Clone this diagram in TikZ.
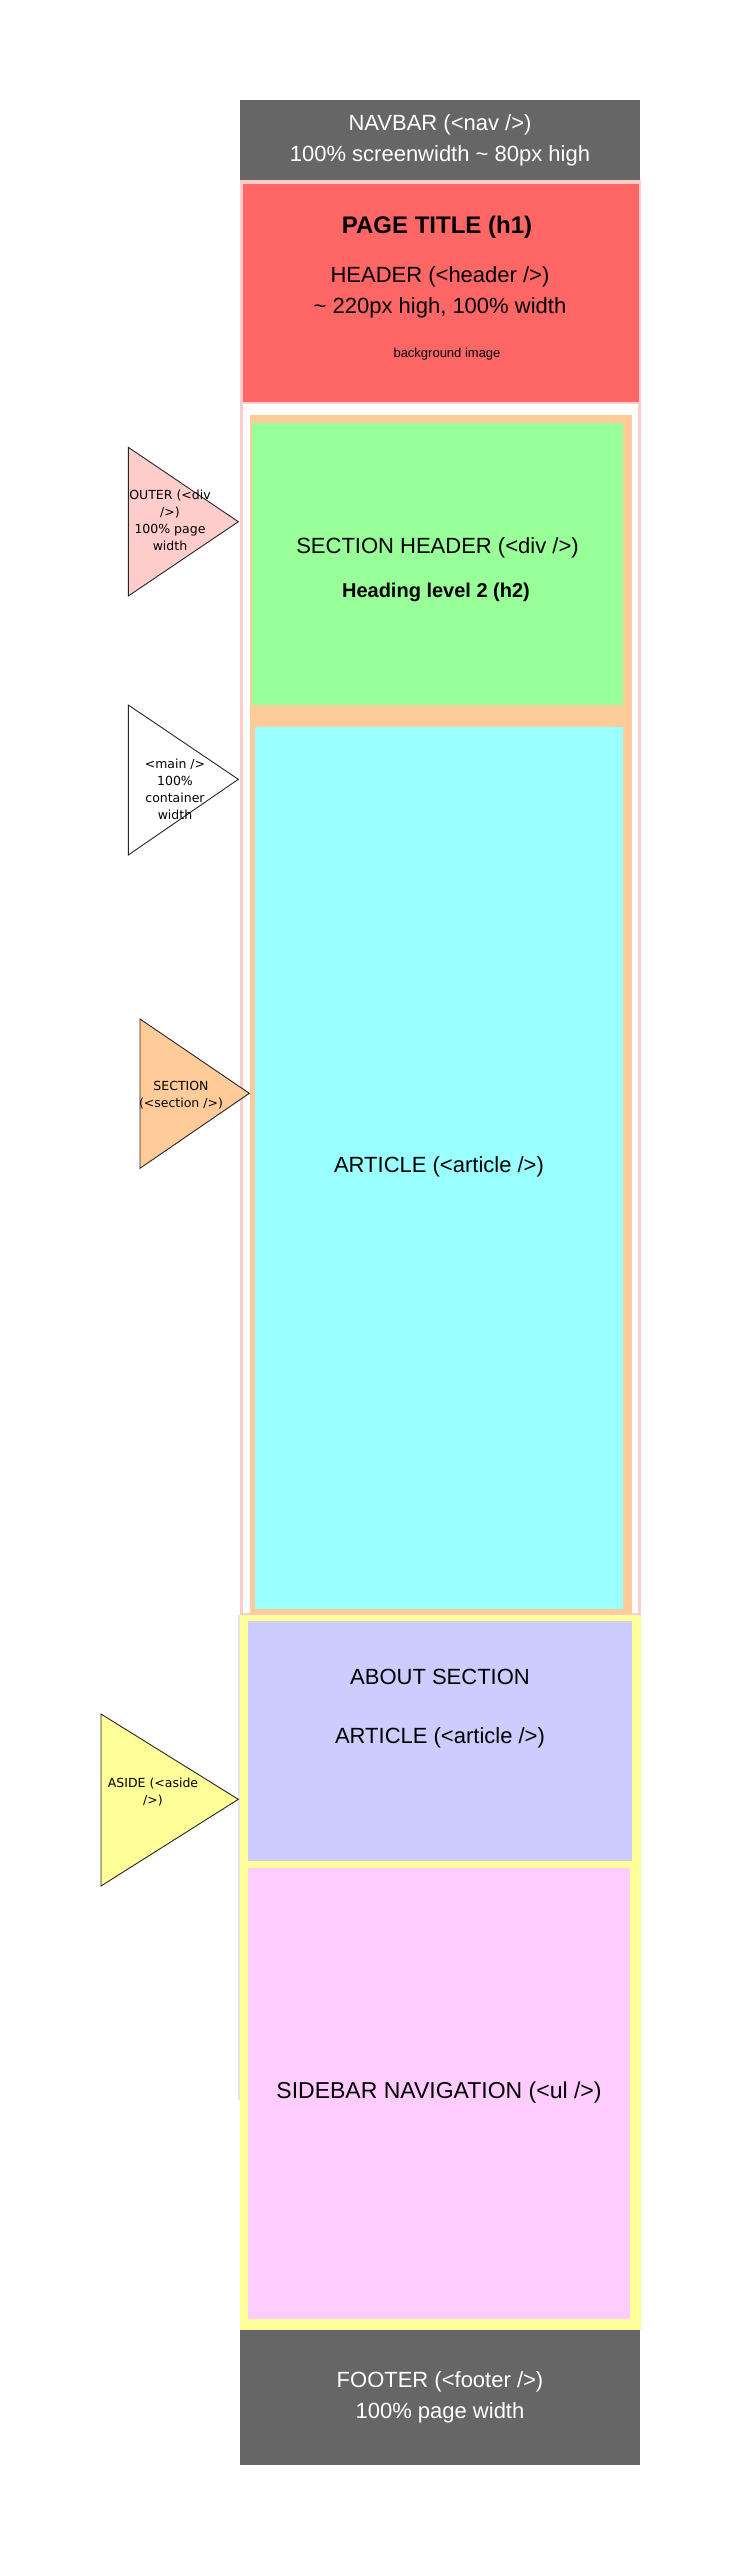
\documentclass[tikz,border=0pt]{standalone}
\usepackage{fontspec}
\setmainfont{Liberation Sans}
\newfontfamily\sketchfont{DejaVu Sans}
\usepackage{tikz}

\definecolor{navgrey}{HTML}{666666}
\definecolor{outerpink}{HTML}{FFCCCC}
\definecolor{headerred}{HTML}{FF6666}
\definecolor{sectionorange}{HTML}{FFCC99}
\definecolor{headgreen}{HTML}{99FF99}
\definecolor{articlecyan}{HTML}{99FFFF}
\definecolor{asideyellow}{HTML}{FFFF99}
\definecolor{aboutpurple}{HTML}{CCCCFF}
\definecolor{sidepink}{HTML}{FFCCFF}

\begin{document}
\begin{tikzpicture}[x=1pt,y=-1pt]
        \tikzstyle{every node}+=[inner sep=0pt]
        \tikzstyle{boxtext}=[font=\fontsize{22}{26}\selectfont]
        \tikzstyle{callout}=[draw=black!85, line width=0.9pt, line join=miter]
        \tikzstyle{callouttext}=[align=center, font=\sketchfont\fontsize{12.5}{17}\selectfont]
        \useasboundingbox (0,0) rectangle (741,2565);
        % navbar
        \fill [navgrey] (240,100) rectangle (640,180);
        \node [boxtext, white] (navtitle) at (440,124.5) {NAVBAR (<nav />)};
        \node [boxtext, white] (navsize) at (440,156) {100\% screenwidth \textasciitilde{} 80px high};
        % outer div
        \draw [outerpink, line width=3pt, fill=white] (241.5,181.5) rectangle (639.5,1614);
        \draw [outerpink, line width=2pt, fill=headerred] (241.5,183) rectangle (639.5,403);
        \node [font=\bfseries\fontsize{24}{28}\selectfont] (pagetitle) at (437,227) {PAGE TITLE (h1)};
        \node [boxtext] (headername) at (440,277) {HEADER (<header />)};
        \node [boxtext] (headersize) at (440,308) {\textasciitilde{} 220px high, 100\% width};
        \node [font=\fontsize{13}{15}\selectfont] (headerbg) at (447,354) {background image};
        % section
        \fill [sectionorange] (250,415) rectangle (632,1614);
        \fill [headgreen] (252,423.3) rectangle (623.3,705);
        \node [boxtext] (sectionhead) at (437.5,548) {SECTION HEADER (<div />)};
        \node [font=\bfseries\fontsize{20}{24}\selectfont] (headingtwo) at (436,592) {Heading level 2 (h2)};
        \fill [articlecyan] (254.6,726.7) rectangle (623.3,1609);
        \node [boxtext] (mainarticle) at (439,1166.5) {ARTICLE (<article />)};
        % aside
        \draw [black!10, line width=1.5pt] (239.2,1615) -- (239.2,2100);
        \fill [asideyellow] (240,1615) rectangle (641,2330);
        \fill [aboutpurple] (248.3,1621) rectangle (632,1861);
        \node [boxtext] (abouttitle) at (440,1677) {ABOUT SECTION};
        \node [boxtext] (aboutarticle) at (440,1738) {ARTICLE (<article />)};
        \fill [sidepink] (248,1868) rectangle (630,2319);
        \node [font=\fontsize{23}{27}\selectfont] (sidebarnav) at (439,2093) {SIDEBAR NAVIGATION (<ul />)};
        % footer
        \fill [navgrey] (240,2330) rectangle (640,2465);
        \node [boxtext, white] (footername) at (440,2382) {FOOTER (<footer />)};
        \node [boxtext, white] (footerwidth) at (440,2413) {100\% page width};
        % callouts
        \draw [callout, fill=outerpink] (128.3,447.3) -- (238.3,521.7) -- (128.3,596) -- cycle;
        \node [callouttext] (outerlabel) at (170,520) {OUTER (<div\\/>)\\100\% page\\width};
        \draw [callout, fill=white] (128.3,705) -- (238.3,779.3) -- (128.3,855) -- cycle;
        \node [callouttext] (mainlabel) at (175,789.5) {<main />\\100\%\\container\\width};
        \draw [callout, fill=sectionorange] (140,1019) -- (249.3,1093.3) -- (140,1168.3) -- cycle;
        \node [callouttext] (sectionlabel) at (181,1095) {SECTION\\(<section />)};
        \draw [callout, fill=asideyellow] (101,1714) -- (238.3,1799.3) -- (101,1886) -- cycle;
        \node [callouttext] (asidelabel) at (153,1792) {ASIDE (<aside\\/>)};
\end{tikzpicture}
\end{document}
